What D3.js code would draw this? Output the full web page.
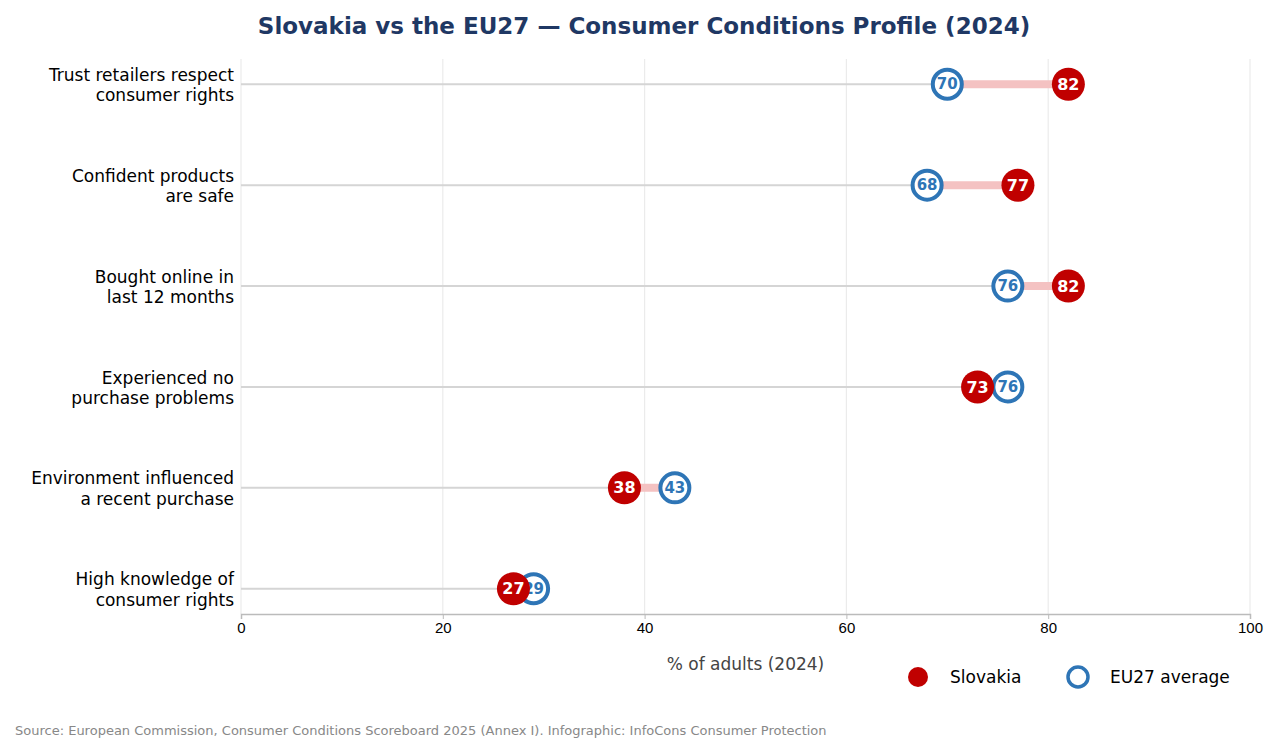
<!DOCTYPE html>
<html lang="en">
<head>
<meta charset="UTF-8">
<title>Slovakia vs EU27</title>
<script src="https://cdn.jsdelivr.net/npm/d3@7"></script>
<style>
  body { margin: 0; background: #fff; font-family: "DejaVu Sans", sans-serif; }
</style>
</head>
<body>
<div id="chart"></div>
<script>
const categories = [
  ["Trust retailers respect", "consumer rights"],
  ["Confident products", "are safe"],
  ["Bought online in", "last 12 months"],
  ["Experienced no", "purchase problems"],
  ["Environment influenced", "a recent purchase"],
  ["High knowledge of", "consumer rights"]
]
const slovakia = [82, 77, 82, 73, 38, 27]
const eu27 = [70, 68, 76, 76, 43, 29]
const xTicks = [0, 20, 40, 60, 80, 100]

const w = 1282, h = 753
const padL = 241, padR = 1250, padT = 59, padB = 614
const red = "#c00000", blue = "#2e75b6"

const svg = d3.select("#chart").append("svg").attr("width", w).attr("height", h)

const x = d3.scaleLinear().domain([0, 100]).range([padL, padR])
const y = d3.scalePoint().domain(d3.range(categories.length)).range([padT, padB]).padding(0.25)

svg.append("text").attr("x", 644).attr("y", 34).attr("text-anchor", "middle")
  .style("font-size", "23px").style("font-weight", "bold").attr("fill", "#1f3864")
  .text("Slovakia vs the EU27 \u2014 Consumer Conditions Profile (2024)")

// grid
svg.append("g").selectAll("line").data(xTicks).enter().append("line")
  .attr("x1", d => x(d)).attr("x2", d => x(d)).attr("y1", padT).attr("y2", padB)
  .attr("stroke", "#ebebeb").attr("stroke-width", 1.2)

// axis
const xAxis = d3.axisBottom(x).tickValues(xTicks).tickSize(5).tickFormat(d3.format("d"))
const gx = svg.append("g").attr("transform", `translate(0, ${padB})`).call(xAxis)
gx.select(".domain").attr("stroke", "#bbb").attr("stroke-width", 1.5)
gx.selectAll(".tick line").attr("stroke", "#bbb")
gx.selectAll("text").style("font-size", "15px").attr("fill", "#000")

svg.append("text").attr("x", (padL + padR) / 2).attr("y", 670).attr("text-anchor", "middle")
  .style("font-size", "17px").attr("fill", "#444").text("% of adults (2024)")

const rows = svg.append("g").selectAll("g").data(categories).enter().append("g")
  .attr("transform", (d, i) => `translate(0, ${y(i)})`)

rows.append("line").attr("x1", x(0)).attr("x2", (d, i) => x(Math.min(slovakia[i], eu27[i])))
  .attr("stroke", "#d5d5d5").attr("stroke-width", 2)
rows.append("line")
  .attr("x1", (d, i) => x(Math.min(slovakia[i], eu27[i])))
  .attr("x2", (d, i) => x(Math.max(slovakia[i], eu27[i])))
  .attr("stroke", "#f4c2c2").attr("stroke-width", 8)

rows.append("text").attr("x", 234).attr("text-anchor", "end").style("font-size", "17px")
  .selectAll("tspan").data(d => d).enter().append("tspan")
  .attr("x", 234).attr("dy", (d, i) => i === 0 ? "-0.2em" : "1.2em").text(d => d)

rows.append("circle").attr("cx", (d, i) => x(eu27[i])).attr("r", 14.5)
  .attr("fill", "#fff").attr("stroke", blue).attr("stroke-width", 4)
rows.append("text").attr("x", (d, i) => x(eu27[i])).attr("dy", "0.35em").attr("text-anchor", "middle")
  .style("font-size", "15px").style("font-weight", "bold").attr("fill", blue).text((d, i) => eu27[i])

rows.append("circle").attr("cx", (d, i) => x(slovakia[i])).attr("r", 16.5).attr("fill", red)
rows.append("text").attr("x", (d, i) => x(slovakia[i])).attr("dy", "0.35em").attr("text-anchor", "middle")
  .style("font-size", "16px").style("font-weight", "bold").attr("fill", "#fff").text((d, i) => slovakia[i])

// legend
const lg = svg.append("g").attr("transform", "translate(0, 677)")
lg.append("circle").attr("cx", 918).attr("r", 10).attr("fill", red)
lg.append("text").attr("x", 950).attr("dy", "0.35em").style("font-size", "17px").text("Slovakia")
lg.append("circle").attr("cx", 1078).attr("r", 10).attr("fill", "#fff").attr("stroke", blue).attr("stroke-width", 3.5)
lg.append("text").attr("x", 1110).attr("dy", "0.35em").style("font-size", "17px").text("EU27 average")

svg.append("text").attr("x", 15).attr("y", 735).style("font-size", "13px").attr("fill", "#888")
  .text("Source: European Commission, Consumer Conditions Scoreboard 2025 (Annex I).  Infographic: InfoCons Consumer Protection")
</script>
</body>
</html>
